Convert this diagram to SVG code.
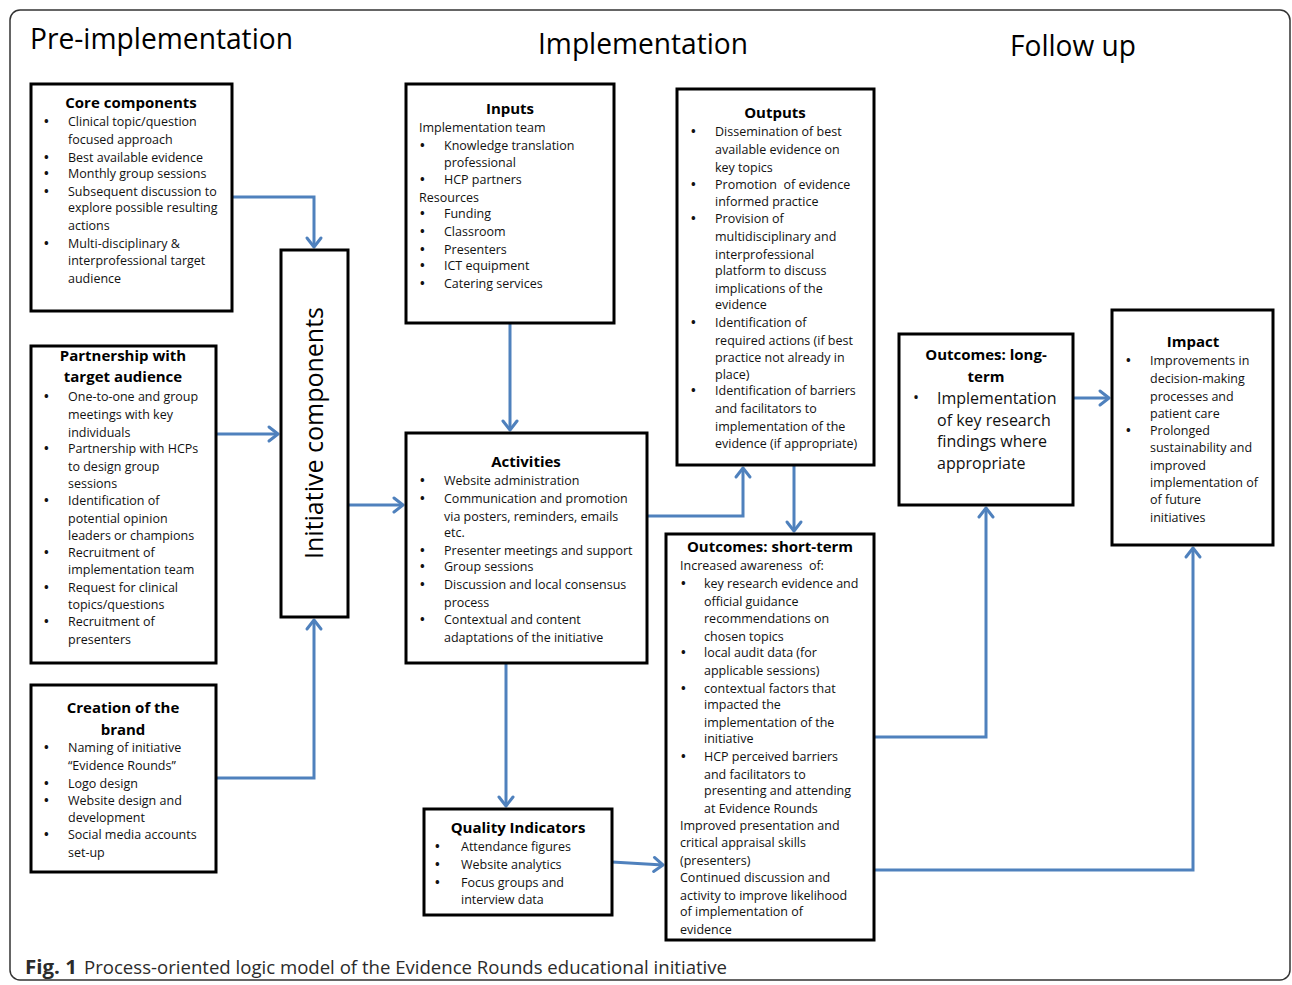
<svg xmlns="http://www.w3.org/2000/svg" width="1292" height="985" viewBox="0 0 1292 985">
<style>
.box{fill:#fff;stroke:#000;stroke-width:3}
.t{font-family:"Open Sans","DejaVu Sans",sans-serif;font-size:12.5px;fill:#111}
.b{font-weight:bold}
.h{font-family:"Open Sans","DejaVu Sans",sans-serif;font-size:15px;font-weight:bold;fill:#000;text-anchor:middle}
.big{font-family:"Open Sans","DejaVu Sans",sans-serif;font-size:16px;fill:#111}
.hd{font-family:"Open Sans","DejaVu Sans",sans-serif;font-size:29px;fill:#000}
.c{fill:none;stroke:#4f81bd;stroke-width:3;stroke-linejoin:miter;marker-end:url(#a)}
</style>
<defs>
<marker id="a" markerUnits="userSpaceOnUse" markerWidth="20" markerHeight="20" viewBox="-12 -10 14 20" refX="0" refY="0" orient="auto">
<path d="M-9,-7 L0,0 L-9,7" fill="none" stroke="#4f81bd" stroke-width="3" stroke-linecap="round" stroke-linejoin="round"/>
</marker>
</defs>
<rect x="0" y="0" width="1292" height="985" fill="#fff"/>
<rect x="10" y="10" width="1280" height="970" rx="10" fill="none" stroke="#333" stroke-width="1.5"/>
<g id="headings">
<text class="hd" x="30" y="49" textLength="263" lengthAdjust="spacingAndGlyphs">Pre-implementation</text>
<text class="hd" x="538" y="54" textLength="210" lengthAdjust="spacingAndGlyphs">Implementation</text>
<text class="hd" x="1010" y="56" textLength="126" lengthAdjust="spacingAndGlyphs">Follow up</text>
</g>
<g id="connectors">
<polyline class="c" points="232,197 314,197 314,247"/>
<polyline class="c" points="216,434 278,434"/>
<polyline class="c" points="216,778 314,778 314,620"/>
<polyline class="c" points="348,505 403,505"/>
<polyline class="c" points="510,323 510,430"/>
<polyline class="c" points="647,516 743,516 743,468"/>
<polyline class="c" points="794,465 794,531"/>
<polyline class="c" points="506,663 506,806"/>
<polyline class="c" points="612,862 663,865"/>
<polyline class="c" points="874,737 986,737 986,508"/>
<polyline class="c" points="1073,398 1109,398"/>
<polyline class="c" points="874,870 1193,870 1193,548"/>
</g>
<g id="core">
<rect class="box" x="31" y="84" width="201" height="227"/>
<text class="h" x="131" y="108">Core components</text>
<g class="t">
<text class="b" x="44" y="126">•</text><text x="68" y="126">Clinical topic/question</text>
<text x="68" y="144">focused approach</text>
<text class="b" x="44" y="162">•</text><text x="68" y="162">Best available evidence</text>
<text class="b" x="44" y="178">•</text><text x="68" y="178">Monthly group sessions</text>
<text class="b" x="44" y="196">•</text><text x="68" y="196">Subsequent discussion to</text>
<text x="68" y="212">explore possible resulting</text>
<text x="68" y="230">actions</text>
<text class="b" x="44" y="248">•</text><text x="68" y="248">Multi-disciplinary &amp;</text>
<text x="68" y="265">interprofessional target</text>
<text x="68" y="283">audience</text>
</g>
</g>
<g id="partnership">
<rect class="box" x="31" y="346" width="185" height="317"/>
<text class="h" x="123" y="361">Partnership with</text>
<text class="h" x="123" y="382">target audience</text>
<g class="t">
<text class="b" x="44" y="401">•</text><text x="68" y="401">One-to-one and group</text>
<text x="68" y="419">meetings with key</text>
<text x="68" y="437">individuals</text>
<text class="b" x="44" y="453">•</text><text x="68" y="453">Partnership with HCPs</text>
<text x="68" y="471">to design group</text>
<text x="68" y="488">sessions</text>
<text class="b" x="44" y="505">•</text><text x="68" y="505">Identification of</text>
<text x="68" y="523">potential opinion</text>
<text x="68" y="540">leaders or champions</text>
<text class="b" x="44" y="557">•</text><text x="68" y="557">Recruitment of</text>
<text x="68" y="574">implementation team</text>
<text class="b" x="44" y="592">•</text><text x="68" y="592">Request for clinical</text>
<text x="68" y="609">topics/questions</text>
<text class="b" x="44" y="626">•</text><text x="68" y="626">Recruitment of</text>
<text x="68" y="644">presenters</text>
</g>
</g>
<g id="brand">
<rect class="box" x="31" y="685" width="185" height="187"/>
<text class="h" x="123" y="713">Creation of the</text>
<text class="h" x="123" y="735">brand</text>
<g class="t">
<text class="b" x="44" y="752">•</text><text x="68" y="752">Naming of initiative</text>
<text x="68" y="770">“Evidence Rounds”</text>
<text class="b" x="44" y="788">•</text><text x="68" y="788">Logo design</text>
<text class="b" x="44" y="805">•</text><text x="68" y="805">Website design and</text>
<text x="68" y="822">development</text>
<text class="b" x="44" y="839">•</text><text x="68" y="839">Social media accounts</text>
<text x="68" y="857">set-up</text>
</g>
</g>
<g id="initiative">
<rect class="box" x="281" y="250" width="67" height="367"/>
<text transform="translate(323,433) rotate(-90)" text-anchor="middle" font-family="'Open Sans','DejaVu Sans',sans-serif" font-size="25" fill="#000">Initiative components</text>
</g>
<g id="inputs">
<rect class="box" x="406" y="84" width="208" height="239"/>
<text class="h" x="510" y="114">Inputs</text>
<g class="t">
<text x="419" y="132">Implementation team</text>
<text class="b" x="420" y="150">•</text><text x="444" y="150">Knowledge translation</text>
<text x="444" y="167">professional</text>
<text class="b" x="420" y="184">•</text><text x="444" y="184">HCP partners</text>
<text x="419" y="202">Resources</text>
<text class="b" x="420" y="218">•</text><text x="444" y="218">Funding</text>
<text class="b" x="420" y="236">•</text><text x="444" y="236">Classroom</text>
<text class="b" x="420" y="254">•</text><text x="444" y="254">Presenters</text>
<text class="b" x="420" y="270">•</text><text x="444" y="270">ICT equipment</text>
<text class="b" x="420" y="288">•</text><text x="444" y="288">Catering services</text>
</g>
</g>
<g id="activities">
<rect class="box" x="406" y="433" width="241" height="230"/>
<text class="h" x="526" y="467">Activities</text>
<g class="t">
<text class="b" x="420" y="485">•</text><text x="444" y="485">Website administration</text>
<text class="b" x="420" y="503">•</text><text x="444" y="503">Communication and promotion</text>
<text x="444" y="521">via posters, reminders, emails</text>
<text x="444" y="537">etc.</text>
<text class="b" x="420" y="555">•</text><text x="444" y="555">Presenter meetings and support</text>
<text class="b" x="420" y="571">•</text><text x="444" y="571">Group sessions</text>
<text class="b" x="420" y="589">•</text><text x="444" y="589">Discussion and local consensus</text>
<text x="444" y="607">process</text>
<text class="b" x="420" y="624">•</text><text x="444" y="624">Contextual and content</text>
<text x="444" y="642">adaptations of the initiative</text>
</g>
</g>
<g id="quality">
<rect class="box" x="424" y="809" width="188" height="106"/>
<text class="h" x="518" y="833">Quality Indicators</text>
<g class="t">
<text class="b" x="435" y="851">•</text><text x="461" y="851">Attendance figures</text>
<text class="b" x="435" y="869">•</text><text x="461" y="869">Website analytics</text>
<text class="b" x="435" y="887">•</text><text x="461" y="887">Focus groups and</text>
<text x="461" y="904">interview data</text>
</g>
</g>
<g id="outputs">
<rect class="box" x="677" y="89" width="197" height="376"/>
<text class="h" x="775" y="118">Outputs</text>
<g class="t">
<text class="b" x="691" y="136">•</text><text x="715" y="136">Dissemination of best</text>
<text x="715" y="154">available evidence on</text>
<text x="715" y="172">key topics</text>
<text class="b" x="691" y="189">•</text><text x="715" y="189" xml:space="preserve">Promotion  of evidence</text>
<text x="715" y="206">informed practice</text>
<text class="b" x="691" y="223">•</text><text x="715" y="223">Provision of</text>
<text x="715" y="241">multidisciplinary and</text>
<text x="715" y="259">interprofessional</text>
<text x="715" y="275">platform to discuss</text>
<text x="715" y="293">implications of the</text>
<text x="715" y="309">evidence</text>
<text class="b" x="691" y="327">•</text><text x="715" y="327">Identification of</text>
<text x="715" y="345">required actions (if best</text>
<text x="715" y="362">practice not already in</text>
<text x="715" y="379">place)</text>
<text class="b" x="691" y="395">•</text><text x="715" y="395">Identification of barriers</text>
<text x="715" y="413">and facilitators to</text>
<text x="715" y="431">implementation of the</text>
<text x="715" y="448">evidence (if appropriate)</text>
</g>
</g>
<g id="shortterm">
<rect class="box" x="666" y="534" width="208" height="406"/>
<text class="h" x="770" y="552">Outcomes: short-term</text>
<g class="t">
<text x="680" y="570" xml:space="preserve">Increased awareness  of:</text>
<text class="b" x="681" y="588">•</text><text x="704" y="588">key research evidence and</text>
<text x="704" y="606">official guidance</text>
<text x="704" y="623">recommendations on</text>
<text x="704" y="641">chosen topics</text>
<text class="b" x="681" y="657">•</text><text x="704" y="657">local audit data (for</text>
<text x="704" y="675">applicable sessions)</text>
<text class="b" x="681" y="693">•</text><text x="704" y="693">contextual factors that</text>
<text x="704" y="709">impacted the</text>
<text x="704" y="727">implementation of the</text>
<text x="704" y="743">initiative</text>
<text class="b" x="681" y="761">•</text><text x="704" y="761">HCP perceived barriers</text>
<text x="704" y="779">and facilitators to</text>
<text x="704" y="795">presenting and attending</text>
<text x="704" y="813">at Evidence Rounds</text>
<text x="680" y="830">Improved presentation and</text>
<text x="680" y="847">critical appraisal skills</text>
<text x="680" y="865">(presenters)</text>
<text x="680" y="882">Continued discussion and</text>
<text x="680" y="900">activity to improve likelihood</text>
<text x="680" y="916">of implementation of</text>
<text x="680" y="934">evidence</text>
</g>
</g>
<g id="longterm">
<rect class="box" x="899" y="334" width="174" height="171"/>
<text class="h" x="986" y="360">Outcomes: long-</text>
<text class="h" x="986" y="382">term</text>
<g class="big">
<text x="913" y="403">•</text><text x="937" y="404">Implementation</text>
<text x="937" y="426">of key research</text>
<text x="937" y="447">findings where</text>
<text x="937" y="469">appropriate</text>
</g>
</g>
<g id="impact">
<rect class="box" x="1112" y="310" width="161" height="235"/>
<text class="h" x="1193" y="347">Impact</text>
<g class="t">
<text class="b" x="1126" y="365">•</text><text x="1150" y="365">Improvements in</text>
<text x="1150" y="383">decision-making</text>
<text x="1150" y="401">processes and</text>
<text x="1150" y="418">patient care</text>
<text class="b" x="1126" y="435">•</text><text x="1150" y="435">Prolonged</text>
<text x="1150" y="452">sustainability and</text>
<text x="1150" y="470">improved</text>
<text x="1150" y="487">implementation of</text>
<text x="1150" y="504">of future</text>
<text x="1150" y="522">initiatives</text>
</g>
</g>
<g id="caption" font-family="'Open Sans','DejaVu Sans',sans-serif" font-size="19" fill="#2b2b2b">
<text x="25" y="974" font-weight="bold" textLength="52" lengthAdjust="spacingAndGlyphs">Fig. 1</text>
<text x="84" y="974" textLength="643" lengthAdjust="spacingAndGlyphs">Process-oriented logic model of the Evidence Rounds educational initiative</text>
</g>
</svg>
